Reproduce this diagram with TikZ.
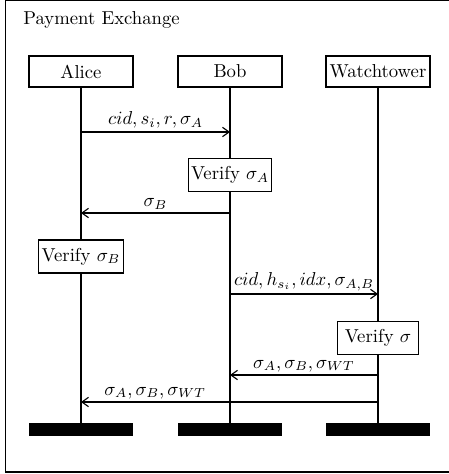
\documentclass[tikz,border=0pt]{standalone}
\usetikzlibrary{arrows.meta}
\begin{document}
\begin{tikzpicture}[x=0.5348pt,y=-0.5348pt,
  actor/.style={draw,line width=0.6pt,minimum width=55.6pt,minimum height=16.6pt,inner sep=0pt},
  verifybox/.style={draw,line width=0.6pt,minimum width=43.5pt,minimum height=17.6pt,inner sep=1.5pt},
  endbar/.style={fill=black,draw=none,minimum width=55.6pt,minimum height=7pt,inner sep=0pt},
  lifeline/.style={line width=0.6pt},
  msg/.style={line width=0.6pt,-{Straight Barb[length=3.5pt,width=5pt]}},
  lbl/.style={above,inner sep=1.5pt}]
\useasboundingbox (0,0) rectangle (448,474);
\draw[line width=0.6pt] (5.5,0.8) rectangle (470,472);
\node[anchor=base west,inner sep=0pt] (title) at (23,25) {Payment Exchange};
\node[actor] (alice) at (81,71.5) {Alice};
\node[actor] (bob) at (230,71.5) {Bob};
\node[actor] (wt) at (378,71.5) {Watchtower};
\node[endbar] (ea) at (81,429.5) {};
\node[endbar] (eb) at (230,429.5) {};
\node[endbar] (ew) at (378,429.5) {};
\node[verifybox] (va) at (230,175) {Verify $\sigma_A$};
\node[verifybox] (vb) at (81,256.5) {Verify $\sigma_B$};
\node[verifybox] (vw) at (378,338) {Verify $\sigma$};
\draw[lifeline] (alice) -- (vb);
\draw[lifeline] (vb) -- (ea);
\draw[lifeline] (bob) -- (va);
\draw[lifeline] (va) -- (eb);
\draw[lifeline] (wt) -- (vw);
\draw[lifeline] (vw) -- (ew);
\coordinate (a1) at (81,132); \coordinate (b1) at (230,132);
\coordinate (b2) at (230,213); \coordinate (a2) at (81,213);
\coordinate (b3) at (230,294); \coordinate (w3) at (378,294);
\coordinate (w4) at (378,375); \coordinate (b4) at (230,375);
\coordinate (w5) at (378,402); \coordinate (a5) at (81,402);
\draw[msg] (a1) -- node[lbl] {$cid, s_i, r, \sigma_A$} (b1);
\draw[msg] (b2) -- node[lbl] {$\sigma_B$} (a2);
\draw[msg] (b3) -- node[lbl] {$cid, h_{s_i}, idx, \sigma_{A,B}$} (w3);
\draw[msg] (w4) -- node[lbl] {$\sigma_A, \sigma_B, \sigma_{WT}$} (b4);
\draw[msg] (w5) -- node[lbl,pos=0.75] {$\sigma_A, \sigma_B, \sigma_{WT}$} (a5);
\end{tikzpicture}
\end{document}
